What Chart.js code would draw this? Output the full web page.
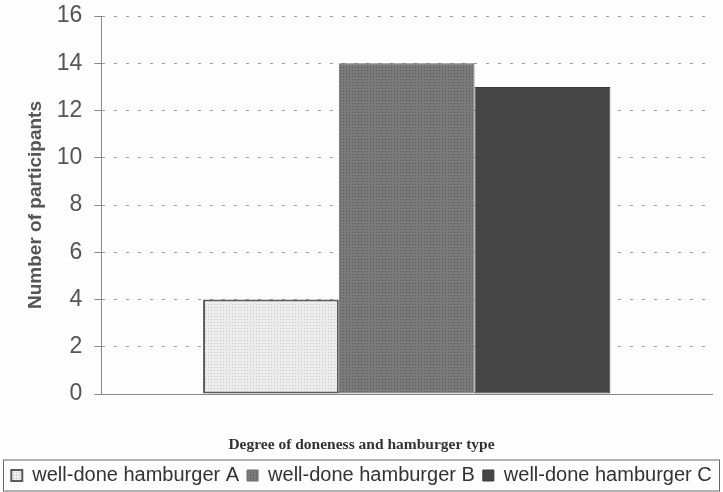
<!DOCTYPE html>
<html>
<head>
  <title>Hamburger doneness</title>
  <script src="https://cdn.jsdelivr.net/npm/chart.js"></script>
  <style>
    html, body { margin: 0; padding: 0; background: #fdfdfd; }
    #wrap { width: 723px; height: 492px; }
  </style>
</head>
<body>
  <div id="wrap"><canvas id="barChart" width="723" height="492"></canvas></div>

  <script>
    // data
    const categories = [""];
    const seriesNames = ["well-done hamburger A", "well-done hamburger B", "well-done hamburger C"];
    const seriesValues = [[4], [14], [13]];
    const yTicks = [0, 2, 4, 6, 8, 10, 12, 14, 16];

    // small dotted fills, like the scanned print
    function dotPattern(bg, dot) {
      const c = document.createElement("canvas");
      c.width = 3; c.height = 3;
      const g = c.getContext("2d");
      g.fillStyle = bg; g.fillRect(0, 0, 3, 3);
      g.fillStyle = dot; g.fillRect(1, 1, 1, 1);
      return g.createPattern(c, "repeat");
    }
    const fills = [dotPattern("#ececec", "#c4c4c4"), dotPattern("#7a7a7a", "#5a5a5a"), "#464646"];
    const borders = ["#5a5a5a", "#6a6a6a", "#3c3c3c"];
    const borderWidths = [2, 1, 1];

    // frame round the legend row
    const legendBorder = {
      id: "legendBorder",
      afterDraw(chart) {
        const lg = chart.legend;
        const c = chart.ctx;
        c.save();
        c.strokeStyle = "#666";
        c.lineWidth = 1;
        c.strokeRect(lg.left + 3.5, lg.top + 2.5, lg.width - 7, 31);
        c.restore();
      }
    };

    const ctx = document.getElementById("barChart").getContext("2d");
    new Chart(ctx, {
      type: "bar",
      data: {
        labels: categories,
        datasets: seriesNames.map((name, i) => ({
          label: name,
          data: seriesValues[i],
          backgroundColor: fills[i],
          borderColor: borders[i],
          borderWidth: borderWidths[i],
          borderSkipped: false,
          categoryPercentage: 0.667,
          barPercentage: 1.0
        }))
      },
      options: {
        responsive: false,
        animation: false,
        layout: { padding: { top: 16, right: 0, left: 0, bottom: -3.5 } },
        scales: {
          x: {
            ticks: { display: false },
            grid: { display: false },
            border: { display: true, color: "#888", width: 1 }
          },
          y: {
            min: 0,
            max: 16,
            afterBuildTicks: (axis) => { axis.ticks = yTicks.map(v => ({ value: v })); },
            // let the layout padding alone decide the plot's top and bottom
            afterFit: (axis) => { axis.paddingTop = 0; axis.paddingBottom = 0; },
            ticks: {
              color: "#555",
              padding: 12,
              font: { family: "Liberation Sans, Arial", size: 23 }
            },
            grid: { color: "#9a9a9a", tickLength: 7, tickColor: "#888" },
            border: { color: "#888", width: 1, dash: [3, 9] },
            title: {
              display: true,
              text: "Number of participants",
              color: "#555",
              font: { family: "Liberation Sans, Arial", size: 19, weight: "bold" },
              padding: { top: 24, bottom: -2 }
            }
          },
          // empty strip on the right so the plot ends where the print does
          yRight: {
            position: "right",
            display: true,
            ticks: { display: false },
            grid: { display: false },
            border: { display: false },
            afterFit: (axis) => { axis.width = 11; }
          }
        },
        plugins: {
          title: {
            display: true,
            position: "bottom",
            weight: 500,
            text: "Degree of doneness and hamburger type",
            color: "#333",
            font: { family: "Liberation Serif, Times New Roman", size: 15.5, weight: "bold" },
            padding: { top: 33.5, bottom: 3.4 }
          },
          legend: {
            position: "bottom",
            labels: {
              color: "#333",
              boxWidth: 11,
              boxHeight: 11,
              padding: 8,
              font: { family: "Liberation Sans, Arial", size: 20 }
            }
          },
          tooltip: { enabled: false }
        }
      },
      plugins: [legendBorder]
    });
  </script>
</body>
</html>
